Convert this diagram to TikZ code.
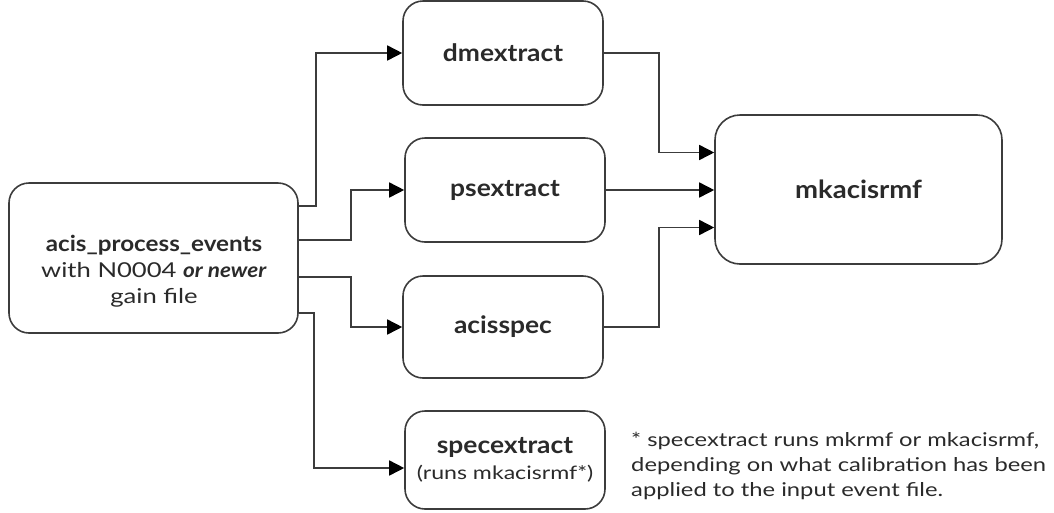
\documentclass[tikz,border=0pt]{standalone}
\usepackage{fontspec}
\setmainfont{Lato}[FakeStretch=1.25, BoldFeatures={FakeStretch=1.1}, BoldItalicFeatures={FakeStretch=1.1}]
\usetikzlibrary{arrows.meta}
\definecolor{linec}{HTML}{3C3C3C}
\definecolor{textc}{HTML}{2A2A2A}
\tikzset{
  box/.style={draw=linec, line width=1.6pt, rounded corners=20pt, inner sep=0pt, align=center, text=textc, font=\fontsize{24}{28}\selectfont\bfseries},
  conn/.style={draw=linec, line width=1.6pt, -{Triangle[length=15pt,width=15pt,fill=black,color=black]}},
  lbl/.style={inner sep=0pt, align=center, text=textc},
}
\begin{document}
\begin{tikzpicture}[x=1pt,y=-1pt]
\useasboundingbox (0,0) rectangle (1054,512);
\node[box, minimum width=289pt, minimum height=150pt] (ape) at (153.5,258) {};
\node[lbl, font=\fontsize{20.5}{26}\selectfont] (apetext) at (154,271)
  {{\fontsize{22}{26}\selectfont\bfseries acis\_process\_events}\\with N0004 \textbf{\textit{or newer}}\\gain file};
\node[box, minimum width=200pt, minimum height=104pt] (dm) at (503,53) {dmextract};
\node[box, minimum width=200pt, minimum height=104pt] (ps) at (505,190) {psextract};
\node[box, minimum width=200pt, minimum height=102pt] (ac) at (503,327) {acisspec};
\node[box, minimum width=200pt, minimum height=98pt] (sp) at (505,460)
  {specextract\\[-2pt]{\fontsize{18.5}{22}\selectfont\mdseries (runs mkacisrmf*)}};
\node[box, rounded corners=25pt, minimum width=287pt, minimum height=149pt, font=\fontsize{25}{28}\selectfont\bfseries] (mk) at (858.5,189.5) {mkacisrmf};
\node[lbl, anchor=north west, align=left, font=\fontsize{19}{25}\selectfont] (note) at (631,432)
  {* specextract runs mkrmf or mkacisrmf,\\depending on what calibration has been\\applied to the input event file.};
\draw[conn] ([yshift=52pt]ape.east) -- ++(17,0) |- (dm.west);
\draw[conn] ([yshift=18pt]ape.east) -- ++(52,0) |- (ps.west);
\draw[conn] ([yshift=-19pt]ape.east) -- ++(52,0) |- (ac.west);
\draw[conn] ([yshift=-55pt]ape.east) -- ++(15,0) |- ([yshift=-8pt]sp.west);
\draw[conn] (dm.east) -- ++(55,0) |- ([yshift=37pt]mk.west);
\draw[conn] (ps.east) -- (ps.east -| mk.west);
\draw[conn] (ac.east) -- ++(55,0) |- ([yshift=-38pt]mk.west);
\end{tikzpicture}
\end{document}
